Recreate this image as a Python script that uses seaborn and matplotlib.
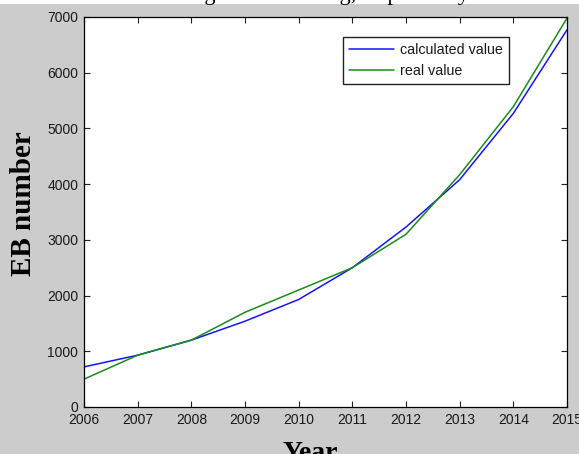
import matplotlib
matplotlib.use("Agg")
import matplotlib.pyplot as plt
from matplotlib.patches import Rectangle
import seaborn as sns
import pandas as pd

# EB counts per year: model output against observed numbers
years = [2006, 2007, 2008, 2009, 2010, 2011, 2012, 2013, 2014, 2015]
calculated_value = [720, 930, 1200, 1540, 1930, 2500, 3230, 4080, 5270, 6770]
real_value = [500, 930, 1200, 1700, 2100, 2500, 3100, 4170, 5390, 6980]
series_names = ["calculated value", "real value"]
x_ticks = years
y_ticks = [0, 1000, 2000, 3000, 4000, 5000, 6000, 7000]

df = pd.DataFrame({
    "Year": years * 2,
    "EB number": calculated_value + real_value,
    "series": [series_names[0]] * len(years) + [series_names[1]] * len(years),
})

sns.set_theme(style="ticks")
plt.rcParams["font.family"] = ["Liberation Sans", "DejaVu Sans"]

W, H = 579, 454
fig = plt.figure(figsize=(W / 100, H / 100), dpi=100, facecolor="#cccccc")

# caption strip of the preceding text block, cut at the top edge
fig.patches.append(Rectangle((0, 1 - 4 / H), 1, 4 / H, transform=fig.transFigure,
                             facecolor="white", edgecolor="none", zorder=0))
fig.text(0.5, 1.0, "the tracking and the testing, respectively",
         ha="center", va="baseline", fontsize=16, color="black",
         family=["Liberation Serif", "DejaVu Serif"])

left, right, top, bottom = 84, 567, 17, 407
ax = fig.add_axes([left / W, (H - bottom) / H, (right - left) / W, (bottom - top) / H])
ax.set_facecolor("white")

sns.lineplot(data=df, x="Year", y="EB number", hue="series",
             palette={series_names[0]: "#1414ff", series_names[1]: "#1a8c1a"},
             linewidth=1.1, ax=ax, legend=True)

ax.set_xlim(years[0], years[-1])
ax.set_ylim(0, 7000)
ax.set_xticks(x_ticks)
ax.set_yticks(y_ticks)
ax.set_xticklabels([str(v) for v in x_ticks])
ax.set_yticklabels([str(v) for v in y_ticks])

for s in ax.spines.values():
    s.set_visible(True)
    s.set_color("black")
    s.set_linewidth(0.9)
ax.tick_params(axis="both", direction="in", length=4, width=0.8, color="#222222",
               labelsize=10, labelcolor="#1a1a1a", top=True, right=True, pad=4.2)

serif = ["Liberation Serif", "DejaVu Serif"]
ax.set_xlabel("Year", fontsize=20, fontweight="bold", family=serif, color="black")
ax.set_ylabel("EB number", fontsize=21, fontweight="bold", family=serif, color="black")
ax.xaxis.set_label_coords((310 - left) / (right - left), (bottom - 441) / (bottom - top))
ax.yaxis.set_label_coords((37 - left) / (right - left), (bottom - 204) / (bottom - top))

leg = ax.legend(loc="upper left",
                bbox_to_anchor=((343 - left) / (right - left), (bottom - 37) / (bottom - top)),
                fontsize=10.3, frameon=True, fancybox=False, framealpha=1,
                edgecolor="#222222", handlelength=3.1, handletextpad=0.4,
                labelspacing=0.45, borderpad=0.45, borderaxespad=0)
leg.get_frame().set_linewidth(1.0)
for t in leg.get_texts():
    t.set_color("#1a1a1a")

fig.savefig("out.png", dpi=100, facecolor=fig.get_facecolor())
